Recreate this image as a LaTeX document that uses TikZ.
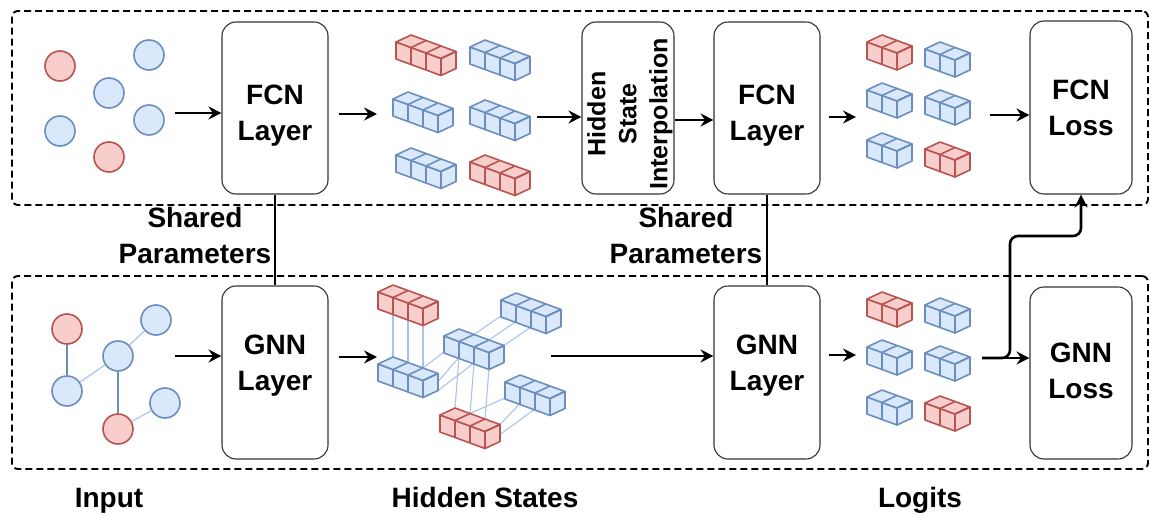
\documentclass[tikz,border=0pt]{standalone}
\usepackage{fontspec}
\setmainfont{Liberation Sans}
\usetikzlibrary{arrows.meta}

\definecolor{redfill}{HTML}{F8CECC}
\definecolor{redline}{HTML}{B85450}
\definecolor{bluefill}{HTML}{DAE8FC}
\definecolor{blueline}{HTML}{6C8EBF}
\definecolor{linkblue}{HTML}{A9C4EB}
\definecolor{boxline}{HTML}{333333}

\tikzset{
  blk/.style={draw=boxline, line width=1.1pt, rounded corners=14pt, inner sep=0pt,
              minimum width=106pt, minimum height=172pt},
  grp/.style={draw=black, line width=1.9pt, dash pattern=on 7pt off 4pt,
              rounded corners=6pt, inner sep=0pt, minimum width=1136pt},
  lbl/.style={font=\fontsize{28}{36}\selectfont\bfseries, align=center,
              inner sep=0pt, anchor=north},
  caption/.style={font=\fontsize{28}{36}\selectfont\bfseries, inner sep=0pt, anchor=base},
  arr/.style={line width=2.6pt, -{Stealth[length=13pt,width=13pt,inset=4.5pt]}},
  shared/.style={line width=1.4pt},
  dot/.style={circle, minimum size=30pt, inner sep=0pt, line width=1.6pt},
  rdot/.style={dot, fill=redfill, draw=redline},
  bdot/.style={dot, fill=bluefill, draw=blueline},
  tie/.style={draw=blueline, line width=1.2pt},
  weak/.style={draw=linkblue, line width=1.2pt},
  link/.style={draw=linkblue, line width=1.1pt},
  cubeface/.style={line width=1.6pt, line join=round},
}

% a row of #2 isometric cubes; #1 = front-left-top corner, #3 = red or blue
\newcommand\cuberow[3]{%
  \begin{scope}[shift={(#1)}]
    \pgfmathsetmacro\crx{#2*15}
    \pgfmathsetmacro\cry{#2*5.5}
    \path[cubeface, fill=#3fill, draw=#3line]
      (0,0) -- (\crx,\cry) -- (\crx,\cry+17) -- (0,17) -- cycle;
    \path[cubeface, fill=#3fill, draw=#3line]
      (0,0) -- (\crx,\cry) -- (\crx+15,\cry-7) -- (15,-7) -- cycle;
    \path[cubeface, fill=#3fill, draw=#3line]
      (\crx,\cry) -- (\crx+15,\cry-7) -- (\crx+15,\cry+10) -- (\crx,\cry+17) -- cycle;
    \foreach \i in {1,...,#2}{
      \draw[cubeface, draw=#3line]
        (\i*15,\i*5.5+17) -- (\i*15,\i*5.5) -- (\i*15+15,\i*5.5-7);
    }
  \end{scope}}

\begin{document}
\begin{tikzpicture}[x=1pt,y=-1pt]
\useasboundingbox (0,0) rectangle (1151,516);

% two branches
\node[grp, minimum height=194pt] (fcnbranch) at (580,108) {};
\node[grp, minimum height=193pt] (gnnbranch) at (580,372.5) {};

% processing blocks
\node[blk] (fcn1) at (275,108) {};
\node[blk, minimum height=173pt] (gnn1) at (275,372.5) {};
\node[blk, minimum width=92pt] (interp) at (628,108) {};
\node[blk] (fcn2) at (767,108) {};
\node[blk, minimum height=173pt] (gnn2) at (767,372.5) {};
\node[blk, minimum width=102pt, minimum height=173pt] (fcnloss) at (1081,107.5) {};
\node[blk, minimum width=102pt] (gnnloss) at (1081,373) {};

\node[lbl] (fcn1t) at (275,85) {FCN\\Layer};
\node[lbl] (fcn2t) at (767,85) {FCN\\Layer};
\node[lbl] (gnn1t) at (275,335) {GNN\\Layer};
\node[lbl] (gnn2t) at (767,335) {GNN\\Layer};
\node[lbl] (fcnlosst) at (1081,80) {FCN\\Loss};
\node[lbl] (gnnlosst) at (1081,343) {GNN\\Loss};
\node[lbl, anchor=center, rotate=90, font=\fontsize{25}{31}\selectfont\bfseries]
  (interpt) at (630,114) {Hidden\\State\\Interpolation};

% shared parameters
\draw[shared] (fcn1.south) -- (gnn1.north);
\draw[shared] (fcn2.south) -- (gnn2.north);
\node[lbl] (share1) at (195,207) {Shared\\Parameters};
\node[lbl] (share2) at (686,207) {Shared\\Parameters};

% input nodes without edges
\node[rdot] (t1) at (60,66) {};
\node[bdot] (t2) at (149,55) {};
\node[bdot] (t3) at (109,93) {};
\node[bdot] (t4) at (149,120) {};
\node[bdot] (t5) at (60,131) {};
\node[rdot] (t6) at (109,157) {};

% input graph
\node[rdot] (b1) at (67,329) {};
\node[bdot] (b2) at (156,320) {};
\node[bdot] (b3) at (118,356) {};
\node[bdot] (b4) at (67,391) {};
\node[bdot] (b5) at (165,403) {};
\node[rdot] (b6) at (118,429) {};
\draw[tie] (b1) -- (b4);
\draw[weak] (b4) -- (b3);
\draw[weak] (b3) -- (b2);
\draw[tie] (b3) -- (b6);
\draw[weak] (b6) -- (b5);

% hidden states, FCN branch
\cuberow{396,42}{3}{red}
\cuberow{470,47}{3}{blue}
\cuberow{393,99}{3}{blue}
\cuberow{470,107}{3}{blue}
\cuberow{396,155}{3}{blue}
\cuberow{470,162}{3}{red}

% hidden states, GNN branch: message links first, rows on top
\draw[link] (393,313) -- (393,357);
\draw[link] (408,318) -- (408,362.5);
\draw[link] (423,324) -- (423,368);
\draw[link] (423,368) -- (444,352);
\draw[link] (438,381.5) -- (459,357.5);
\draw[link] (438,390.5) -- (474,363);
\draw[link] (474,334.5) -- (501,316);
\draw[link] (489,340) -- (516,321.5);
\draw[link] (504,345.5) -- (531,327);
\draw[link] (459,357.5) -- (455,408);
\draw[link] (474,363) -- (470,413.5);
\draw[link] (489,368.5) -- (485,419);
\draw[link] (505,398) -- (470,413.5);
\draw[link] (520,403.5) -- (500,424.5);
\draw[link] (535,409) -- (500,434.5);
\cuberow{378,292}{3}{red}
\cuberow{501,300}{3}{blue}
\cuberow{444,336}{3}{blue}
\cuberow{378,364}{3}{blue}
\cuberow{505,382}{3}{blue}
\cuberow{440,415}{3}{red}

% logits
\cuberow{867,42}{2}{red}
\cuberow{925,49}{2}{blue}
\cuberow{867,90}{2}{blue}
\cuberow{925,97}{2}{blue}
\cuberow{867,140}{2}{blue}
\cuberow{925,149}{2}{red}
\cuberow{867,299}{2}{red}
\cuberow{925,305}{2}{blue}
\cuberow{867,347}{2}{blue}
\cuberow{925,353}{2}{blue}
\cuberow{867,397}{2}{blue}
\cuberow{925,403}{2}{red}

% flow, FCN branch
\coordinate (inTop) at (175,113);
\coordinate (hsTopIn) at (377,114);
\coordinate (hsTopOut) at (537,117);
\coordinate (lgTopIn) at (856,117);
\coordinate (lgTopOut) at (990,115);
\draw[arr] (inTop) -- (inTop -| fcn1.west);
\draw[arr] ([xshift=10]fcn1.east |- hsTopIn) -- (hsTopIn);
\draw[arr] (hsTopOut) -- (hsTopOut -| interp.west);
\draw[arr] (interp.east |- 0,120) -- (fcn2.west |- 0,120);
\draw[arr] ([xshift=8]fcn2.east |- lgTopIn) -- (lgTopIn);
\draw[arr] (lgTopOut) -- (lgTopOut -| fcnloss.west);

% flow, GNN branch
\coordinate (inBot) at (175,356);
\coordinate (hsBotIn) at (377,357);
\coordinate (hsBotOut) at (551,356);
\coordinate (lgBotIn) at (856,355);
\coordinate (lgBotOut) at (982,358);
\draw[arr] (inBot) -- (inBot -| gnn1.west);
\draw[arr] ([xshift=10]gnn1.east |- hsBotIn) -- (hsBotIn);
\draw[arr] (hsBotOut) -- (hsBotOut -| gnn2.west);
\draw[arr] ([xshift=8]gnn2.east |- lgBotIn) -- (lgBotIn);
\draw[arr] (lgBotOut) -- (lgBotOut -| gnnloss.west);
\draw[arr, rounded corners=8pt] (lgBotOut) -- (1010,358) -- (1010,236)
  -- (1081,236) -- (fcnloss.south);

% stage captions
\node[caption] (capin) at (109,507) {Input};
\node[caption] (caphs) at (485,507) {Hidden States};
\node[caption] (caplg) at (920,507) {Logits};
\end{tikzpicture}
\end{document}
